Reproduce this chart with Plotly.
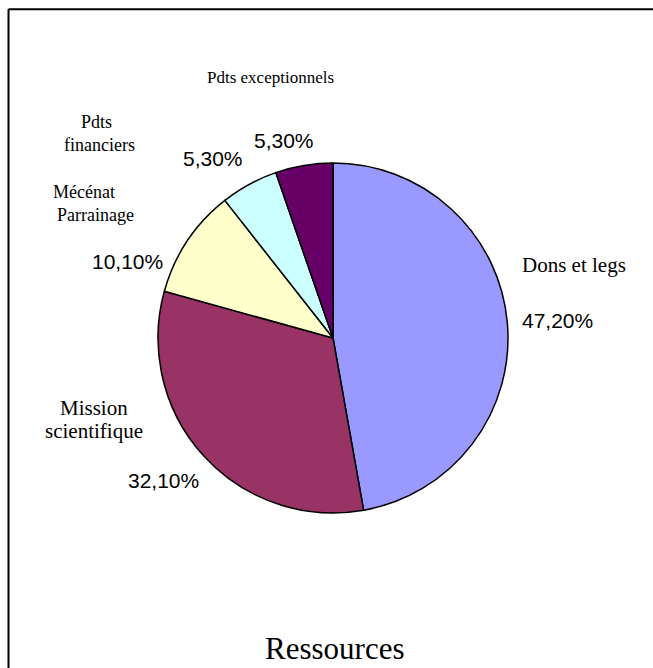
import plotly.graph_objects as go

# ---- data ----
categories = ["Dons et legs", "Mission scientifique", "Mécénat Parrainage",
              "Pdts financiers", "Pdts exceptionnels"]
label_lines = [["Dons et legs"], ["Mission", "scientifique"], ["Mécénat", "Parrainage"],
               ["Pdts", "financiers"], ["Pdts exceptionnels"]]
values = [47.2, 32.1, 10.1, 5.3, 5.3]
colors = ["#9999FF", "#993366", "#FFFFCC", "#CCFFFF", "#660066"]
title_text = "Ressources"

W, H = 653, 668
cx, cy, r = 333, 338, 175   # window pixels

def px(x):
    return x / W

def py(y):
    return 1 - y / H

fig = go.Figure()
fig.add_trace(go.Pie(
    labels=categories, values=values, sort=False, direction="clockwise",
    rotation=0, textinfo="none", hoverinfo="label+percent",
    marker=dict(colors=colors, line=dict(color="black", width=1.5)),
    domain=dict(x=[px(cx - r), px(cx + r)], y=[py(cy + r), py(cy - r)]),
    showlegend=False,
))

serif = "Liberation Serif, Times New Roman, serif"
sans = "Liberation Sans, Arial, sans-serif"

# label line positions (x center, y middle) in window pixels
label_pos = [
    [(574, 265)],
    [(94, 408), (94, 431)],
    [(84, 192), (95, 214.5)],
    [(96, 122), (99.5, 145)],
    [(270, 77)],
]
label_size = [21, 21, 18, 18, 17]
pct_pos = [(557, 320), (163, 480), (127, 261), (213, 158), (284, 140)]

annotations = []
for lines, poss, fs in zip(label_lines, label_pos, label_size):
    for t, (x, y) in zip(lines, poss):
        annotations.append(dict(
            text=t, x=px(x), y=py(y), xref="paper", yref="paper",
            xanchor="center", yanchor="middle", showarrow=False,
            font=dict(family=serif, size=fs, color="black")))
for v, (x, y) in zip(values, pct_pos):
    annotations.append(dict(
        text=f"{v:.2f}%".replace(".", ","), x=px(x), y=py(y),
        xref="paper", yref="paper", xanchor="center", yanchor="middle",
        showarrow=False, font=dict(family=sans, size=21, color="black")))
annotations.append(dict(
    text=title_text, x=px(334), y=0, xref="paper", yref="paper",
    xanchor="center", yanchor="bottom", showarrow=False,
    font=dict(family=serif, size=31, color="black")))

frame = dict(color="black", width=2)
fig.update_layout(
    width=W, height=H, margin=dict(l=0, r=0, t=0, b=0),
    paper_bgcolor="white", plot_bgcolor="white",
    annotations=annotations,
    shapes=[
        dict(type="line", xref="paper", yref="paper",
             x0=px(8.5), x1=1.2, y0=py(9.2), y1=py(9.2), line=frame),
        dict(type="line", xref="paper", yref="paper",
             x0=px(8.5), x1=px(8.5), y0=-0.2, y1=py(9.2), line=frame),
    ],
)

# remove the page's default body margin / scrollbars so the figure fills the window
page_js = ("document.documentElement.style.overflow='hidden';"
           "document.body.style.overflow='hidden';"
           "document.body.style.margin='0';")
fig.write_html("out.html", post_script=page_js,
               config={"displayModeBar": False})
